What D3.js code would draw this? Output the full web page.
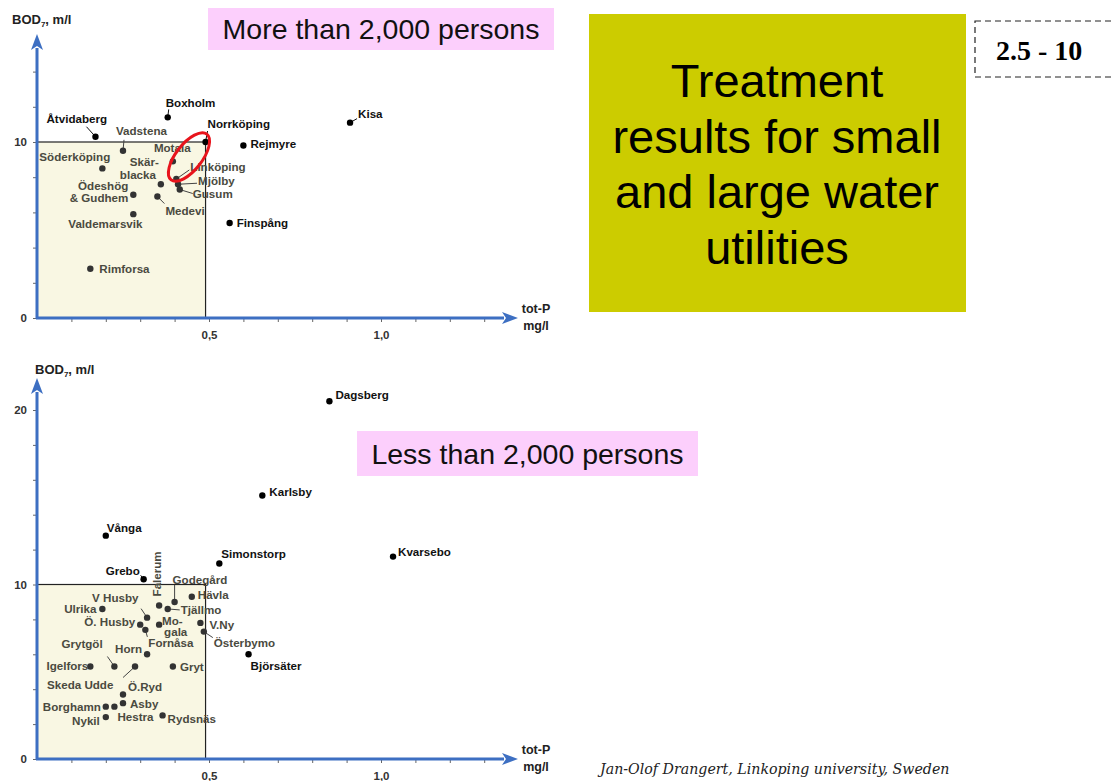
<!DOCTYPE html>
<html lang="en">
<head>
    <meta charset="UTF-8">
    <title>Treatment results for small and large water utilities</title>
    <script src="https://d3js.org/d3.v7.min.js"></script>
    <style>
        body { margin: 0; background: #fff; font-family: "Liberation Sans", Arial, sans-serif; }
        svg { display: block; }
        .pt-label { font-size: 11.6px; font-weight: bold; }
        .tick text { font-size: 11.5px; font-weight: bold; fill: #333; font-family: "Liberation Sans", Arial, sans-serif; }
        .tick line { stroke: #666; }
    </style>
</head>
<body>
<div id="container"></div>
<script>
    // ---- data: more than 2,000 persons (top chart) ----
    const topNames = ['Åtvidaberg', 'Vadstena', 'Söderköping', 'Skär-|blacka', 'Motala', 'Linköping', 'Mjölby',
        'Gusum', 'Medevi', 'Ödeshög|& Gudhem', 'Valdemarsvik', 'Rimforsa', 'Boxholm', 'Norrköping',
        'Rejmyre', 'Finspång', 'Kisa'];
    const topP = [0.17, 0.25, 0.19, 0.36, 0.395, 0.405, 0.41, 0.415, 0.35, 0.28, 0.28, 0.155, 0.38, 0.49, 0.6, 0.56, 0.91];
    const topBOD = [10.3, 9.5, 8.5, 7.6, 8.9, 7.9, 7.6, 7.3, 6.9, 7.0, 5.9, 2.8, 11.4, 10.0, 9.8, 5.4, 11.1];

    // ---- data: less than 2,000 persons (bottom chart) ----
    const botNames = ['Grebo', 'Falerum', 'Godegård', 'Hävla', 'Tjällmo', 'V.Ny', 'Österbymo', 'Björsäter',
        'Mo-|gala', 'V Husby', 'Ulrika', 'Ö. Husby', 'Fornåsa', 'Horn', 'Grytgöl', 'Skeda Udde', 'Igelfors',
        'Gryt', 'Ö.Ryd', 'Asby', 'Borghamn', 'Hestra', 'Nykil', 'Rydsnäs', 'Vånga', 'Simonstorp', 'Karlsby',
        'Dagsberg', 'Kvarsebo'];
    const botP = [0.31, 0.355, 0.4, 0.45, 0.38, 0.475, 0.485, 0.615, 0.355, 0.32, 0.19, 0.3, 0.315, 0.32, 0.225,
        0.285, 0.155, 0.395, 0.25, 0.25, 0.2, 0.225, 0.2, 0.365, 0.2, 0.53, 0.655, 0.85, 1.035];
    const botBOD = [10.3, 8.8, 9.0, 9.3, 8.6, 7.8, 7.3, 6.0, 7.7, 8.1, 8.6, 7.7, 7.4, 6.0, 5.3, 5.3, 5.3, 5.3,
        3.7, 3.2, 3.0, 3.0, 2.4, 2.5, 12.8, 11.2, 15.1, 20.5, 11.6];

    // axis ticks
    const xTicks = [0.1, 0.2, 0.3, 0.4, 0.5, 0.6, 0.7, 0.8, 0.9, 1.0, 1.1, 1.2, 1.3];
    const xTickLabels = {0.5: '0,5', 1.0: '1,0'};
    const topYTicks = [0, 2, 4, 6, 8, 10, 12, 14];
    const botYTicks = [0, 2, 4, 6, 8, 10, 12, 14, 16, 18, 20];
    const yTickLabels = [0, 10, 20];
    const limit = {p: 0.49, bod: 10};

    // label placement relative to each dot: [dx, dy, anchor, leader]
    const place = {
        'Åtvidaberg': [-49, -14, 'start', [-9, -10]], 'Vadstena': [-7, -16, 'start', [1, -11]],
        'Söderköping': [-63, -7, 'start'], 'Skär-|blacka': [-31, -18, 'start'],
        'Motala': [-19, -9, 'start'], 'Linköping': [14, -8, 'start', [13, -9]], 'Mjölby': [20, 1, 'start', [19, -1]],
        'Gusum': [13, 8, 'start', [13, 4]], 'Medevi': [8, 18, 'start', [7, 7]], 'Ödeshög|& Gudhem': [-5, -5, 'end'],
        'Valdemarsvik': [-65, 14, 'start'], 'Rimforsa': [9, 4, 'start'], 'Boxholm': [-2, -10, 'start', [1, -8]],
        'Norrköping': [2, -14, 'start', [2, -11]], 'Rejmyre': [7, 2, 'start'], 'Finspång': [7, 4, 'start'],
        'Kisa': [8, -5, 'start', [7, -4]],
        'Grebo': [-38, -4, 'start', [-3, -4]], 'Falerum': [2, -9, 'vertical'], 'Godegård': [-2, -18, 'start', [0, -17]],
        'Hävla': [6, 2, 'start'], 'Tjällmo': [13, 5, 'start', [12, 1]], 'V.Ny': [9, 6, 'start'],
        'Österbymo': [10, 15, 'start', [9, 6]], 'Björsäter': [2, 16, 'start'], 'Mo-|gala': [3, 0, 'start'],
        'V Husby': [-55, -16, 'start', [-6, -9]], 'Ulrika': [-6, 4, 'end'], 'Ö. Husby': [-5, 1, 'end'],
        'Fornåsa': [3, 17.5, 'start', [2, 7]], 'Horn': [-5, -1, 'end'], 'Grytgöl': [-53, -19, 'start', [-7, -10]],
        'Skeda Udde': [-88, 22, 'start', [-12, 11]], 'Igelfors': [-2, 3, 'end'], 'Gryt': [7, 4, 'start'],
        'Ö.Ryd': [5, -3, 'start'], 'Asby': [7, 5, 'start'], 'Borghamn': [-5, 4, 'end'], 'Hestra': [3, 14, 'start'],
        'Nykil': [-6, 8, 'end'], 'Rydsnäs': [5, 8, 'start'], 'Vånga': [1, -4, 'start'], 'Simonstorp': [2, -6, 'start'],
        'Karlsby': [7, 0, 'start'], 'Dagsberg': [6, -2, 'start'], 'Kvarsebo': [5, -1, 'start']
    };

    const svg = d3.select('#container').append('svg')
        .attr('width', 1114)
        .attr('height', 781);

    // arrow head for the blue axes
    svg.append('defs').append('marker')
        .attr('id', 'arrow')
        .attr('markerUnits', 'userSpaceOnUse')
        .attr('viewBox', '0 0 16 12')
        .attr('refX', 2).attr('refY', 6)
        .attr('markerWidth', 16).attr('markerHeight', 12)
        .attr('orient', 'auto')
        .append('path')
        .attr('d', 'M0,0 L16,6 L0,12 L4,6 Z')
        .attr('fill', '#3d6fc2');

    function drawChart(cfg) {
        const x = d3.scaleLinear().domain([0, 1.4]).range([37, 37 + 1.4 * 344]);
        const y = d3.scaleLinear().domain([0, cfg.yMax]).range([cfg.y0, cfg.y0 - cfg.yMax * cfg.unit]);
        const g = svg.append('g');

        // cream "good" area
        g.append('rect')
            .attr('x', x(0)).attr('y', y(limit.bod))
            .attr('width', x(limit.p) - x(0)).attr('height', y(0) - y(limit.bod))
            .attr('fill', '#f9f7e3')
            .attr('stroke', '#222').attr('stroke-width', 1.2);

        // ticks
        g.append('g')
            .attr('transform', `translate(${x(0)},0)`)
            .call(d3.axisLeft(y).tickValues(cfg.yTicks).tickSize(4).tickPadding(6)
                .tickFormat(d => yTickLabels.includes(d) ? d : ''))
            .call(a => a.select('.domain').remove());
        g.append('g')
            .attr('transform', `translate(0,${y(0)})`)
            .call(d3.axisBottom(x).tickValues(xTicks).tickSize(4).tickPadding(9)
                .tickFormat(d => xTickLabels[d] || ''))
            .call(a => a.select('.domain').remove());

        // blue axes with arrows
        g.append('line')
            .attr('x1', x(0)).attr('y1', y(0) + 1).attr('x2', x(0)).attr('y2', cfg.yTop)
            .attr('stroke', '#3d6fc2').attr('stroke-width', 3).attr('marker-end', 'url(#arrow)');
        g.append('line')
            .attr('x1', x(0) - 1).attr('y1', y(0)).attr('x2', 504).attr('y2', y(0))
            .attr('stroke', '#3d6fc2').attr('stroke-width', 3).attr('marker-end', 'url(#arrow)');

        // axis titles
        const t = g.append('text').attr('x', cfg.titleX).attr('y', cfg.titleY)
            .attr('font-size', 13).attr('font-weight', 'bold').attr('fill', '#222');
        t.append('tspan').text('BOD');
        t.append('tspan').attr('font-size', 8).attr('dy', 3).text('7');
        t.append('tspan').attr('dy', -3).text(', m/l');
        g.append('text').attr('x', 536).attr('y', y(0) - 5).attr('text-anchor', 'middle')
            .attr('font-size', 12.5).attr('font-weight', 'bold').attr('fill', '#222').text('tot-P');
        g.append('text').attr('x', 536).attr('y', y(0) + 12).attr('text-anchor', 'middle')
            .attr('font-size', 12.5).attr('font-weight', 'bold').attr('fill', '#222').text('mg/l');

        const data = cfg.names.map((n, i) => ({name: n, p: cfg.p[i], bod: cfg.bod[i]}));
        const inside = d => d.p < limit.p && d.bod < limit.bod;

        // leader lines
        g.selectAll('.leader')
            .data(data.filter(d => place[d.name][3]))
            .enter()
            .append('line')
            .attr('x1', d => x(d.p)).attr('y1', d => y(d.bod))
            .attr('x2', d => x(d.p) + place[d.name][3][0])
            .attr('y2', d => y(d.bod) + place[d.name][3][1])
            .attr('stroke', d => inside(d) ? '#444' : '#111').attr('stroke-width', 1);

        // dots
        g.selectAll('circle')
            .data(data)
            .enter()
            .append('circle')
            .attr('cx', d => x(d.p)).attr('cy', d => y(d.bod))
            .attr('r', 3.2)
            .attr('fill', d => inside(d) ? '#333' : '#000');

        // labels (a "|" splits a name over two lines)
        g.selectAll('.pt-label')
            .data(data)
            .enter()
            .append('text')
            .attr('class', 'pt-label')
            .attr('fill', d => inside(d) ? '#4a4a40' : '#111')
            .attr('text-anchor', d => place[d.name][2] === 'end' ? 'end' : 'start')
            .attr('transform', function(d) {
                const px = x(d.p) + place[d.name][0];
                const py = y(d.bod) + place[d.name][1];
                return place[d.name][2] === 'vertical'
                    ? `translate(${px},${py}) rotate(-90)` : `translate(${px},${py})`;
            })
            .each(function(d) {
                const parts = d.name.split('|');
                const el = d3.select(this);
                const isMo = d.name.startsWith('Mo-');
                parts.forEach((s, k) => {
                    el.append('tspan').attr('x', k === 1 && d.name.startsWith('Skär') ? -10 : (k === 1 && isMo ? 2 : 0))
                        .attr('dy', k === 0 ? 0 : (isMo ? 11 : 12.5)).text(s);
                });
            });

        return {x, y, g};
    }

    const topChart = drawChart({names: topNames, p: topP, bod: topBOD, yMax: 16, y0: 318, unit: 17.6,
        yTicks: topYTicks, yTop: 48, titleX: 12, titleY: 24});
    drawChart({names: botNames, p: botP, bod: botBOD, yMax: 22, y0: 759, unit: 17.45,
        yTicks: botYTicks, yTop: 392, titleX: 35, titleY: 374});

    // red ellipse around the Linköping group
    topChart.g.append('ellipse')
        .attr('cx', 189).attr('cy', 157).attr('rx', 13).attr('ry', 29)
        .attr('transform', 'rotate(38,189,157)')
        .attr('fill', 'none').attr('stroke', '#e8141c').attr('stroke-width', 3);

    // captions
    function pinkBox(x0, y0, w, h, txt) {
        svg.append('rect').attr('x', x0).attr('y', y0).attr('width', w).attr('height', h).attr('fill', '#fccffc');
        svg.append('text').attr('x', x0 + w / 2).attr('y', y0 + h / 2 + 10)
            .attr('text-anchor', 'middle').attr('font-size', 28.5).attr('fill', '#111').text(txt);
    }
    pinkBox(208, 8, 346, 42, 'More than 2,000 persons');
    pinkBox(357, 431, 341, 45, 'Less than 2,000 persons');

    svg.append('rect').attr('x', 589).attr('y', 14).attr('width', 377).attr('height', 298).attr('fill', '#cccc00');
    ['Treatment', 'results for small', 'and large water', 'utilities'].forEach((s, i) => {
        svg.append('text').attr('x', 777).attr('y', 97 + i * 55.5)
            .attr('text-anchor', 'middle').attr('font-size', 47).attr('fill', '#000').text(s);
    });

    svg.append('rect').attr('x', 975).attr('y', 21).attr('width', 150).attr('height', 56)
        .attr('fill', 'none').attr('stroke', '#222').attr('stroke-width', 1.2).attr('stroke-dasharray', '6,4');
    svg.append('text').attr('x', 996).attr('y', 60)
        .attr('font-family', '"Liberation Serif", "Times New Roman", serif')
        .attr('font-size', 28).attr('font-weight', 'bold').text('2.5 - 10');

    svg.append('text').attr('x', 600).attr('y', 774)
        .attr('font-family', '"DejaVu Serif", serif')
        .attr('font-size', 14.2).attr('font-style', 'italic').attr('fill', '#222')
        .text('Jan-Olof Drangert, Linkoping university, Sweden');
</script>
</body>
</html>
